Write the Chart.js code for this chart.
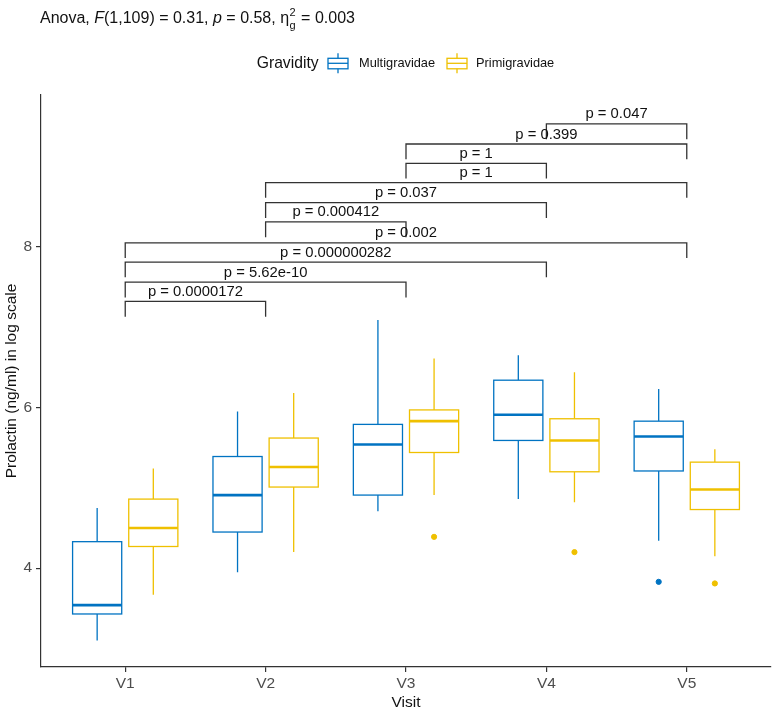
<!DOCTYPE html>
<html>
<head>
<meta charset="utf-8">
<script src="https://cdn.jsdelivr.net/npm/chart.js@4"></script>
<style>
  html, body { margin: 0; padding: 0; background: #fff; }
</style>
</head>
<body>
<canvas id="prolactinChart" width="776" height="714"></canvas>
<script>
const visits = ['V1', 'V2', 'V3', 'V4', 'V5'];
const yTicks = [4, 6, 8];

// Multigravidae boxes
const multiMin = [3.10, 3.95, 4.71, 4.86, 4.34];
const multiQ1 = [3.43, 4.45, 4.91, 5.59, 5.21];
const multiMedian = [3.54, 4.91, 5.54, 5.91, 5.64];
const multiQ3 = [4.33, 5.39, 5.79, 6.34, 5.83];
const multiMax = [4.75, 5.95, 7.09, 6.65, 6.23];
const multiOutliers = [{ visit: 'V5', value: 3.83 }];

// Primigravidae boxes
const primiMin = [3.67, 4.20, 4.91, 4.82, 4.15];
const primiQ1 = [4.27, 5.01, 5.44, 5.20, 4.73];
const primiMedian = [4.50, 5.26, 5.83, 5.59, 4.98];
const primiQ3 = [4.86, 5.62, 5.97, 5.86, 5.32];
const primiMax = [5.24, 6.18, 6.61, 6.44, 5.48];
const primiOutliers = [
  { visit: 'V3', value: 4.39 },
  { visit: 'V4', value: 4.20 },
  { visit: 'V5', value: 3.81 }
];

// pairwise comparisons, top to bottom
const pairFrom = ['V4', 'V3', 'V3', 'V2', 'V2', 'V2', 'V1', 'V1', 'V1', 'V1'];
const pairTo = ['V5', 'V5', 'V4', 'V5', 'V4', 'V3', 'V5', 'V4', 'V3', 'V2'];
const pLabels = ['p = 0.047', 'p = 0.399', 'p = 1', 'p = 1', 'p = 0.037', 'p = 0.000412',
  'p = 0.002', 'p = 0.000000282', 'p = 5.62e-10', 'p = 0.0000172'];
const bracketY = [9.53, 9.28, 9.04, 8.80, 8.55, 8.31, 8.05, 7.81, 7.56, 7.32];

const blue = '#0073C2';
const yellow = '#EFC000';
const fam = "'Liberation Sans', Arial, sans-serif";
const dodge = 0.2;
const boxHalf = 0.175;
const tipLen = 0.19;

const boxes = [
  { color: blue, off: -dodge, lo: multiMin, q1: multiQ1, med: multiMedian, q3: multiQ3, hi: multiMax },
  { color: yellow, off: dodge, lo: primiMin, q1: primiQ1, med: primiMedian, q3: primiQ3, hi: primiMax }
];

const boxPlugin = {
  id: 'boxes',
  beforeDatasetsDraw(chart) {
    const { ctx, scales: { x, y } } = chart;
    ctx.save();
    boxes.forEach(g => {
      visits.forEach((v, i) => {
        const xc = i + 1 + g.off;
        const xm = x.getPixelForValue(xc);
        const xl = x.getPixelForValue(xc - boxHalf);
        const xr = x.getPixelForValue(xc + boxHalf);
        const pLo = y.getPixelForValue(g.lo[i]);
        const p1 = y.getPixelForValue(g.q1[i]);
        const pM = y.getPixelForValue(g.med[i]);
        const p3 = y.getPixelForValue(g.q3[i]);
        const pHi = y.getPixelForValue(g.hi[i]);
        ctx.strokeStyle = g.color;
        ctx.lineWidth = 1.3;
        ctx.beginPath();
        ctx.moveTo(xm, p3); ctx.lineTo(xm, pHi);
        ctx.moveTo(xm, p1); ctx.lineTo(xm, pLo);
        ctx.stroke();
        ctx.fillStyle = '#fff';
        ctx.fillRect(xl, p3, xr - xl, p1 - p3);
        ctx.strokeRect(xl, p3, xr - xl, p1 - p3);
        ctx.lineWidth = 2.6;
        ctx.beginPath();
        ctx.moveTo(xl, pM); ctx.lineTo(xr, pM);
        ctx.stroke();
      });
    });
    ctx.restore();
  }
};

const bracketPlugin = {
  id: 'brackets',
  afterDatasetsDraw(chart) {
    const { ctx, scales: { x, y } } = chart;
    ctx.save();
    ctx.strokeStyle = '#333';
    ctx.lineWidth = 1.3;
    ctx.fillStyle = '#111';
    ctx.font = '14.8px ' + fam;
    ctx.textAlign = 'center';
    ctx.textBaseline = 'alphabetic';
    pLabels.forEach((lab, i) => {
      const x1 = x.getPixelForValue(visits.indexOf(pairFrom[i]) + 1);
      const x2 = x.getPixelForValue(visits.indexOf(pairTo[i]) + 1);
      const yb = y.getPixelForValue(bracketY[i]);
      const yt = y.getPixelForValue(bracketY[i] - tipLen);
      ctx.beginPath();
      ctx.moveTo(x1, yt); ctx.lineTo(x1, yb); ctx.lineTo(x2, yb); ctx.lineTo(x2, yt);
      ctx.stroke();
      ctx.fillText(lab, (x1 + x2) / 2, yb - 5.5);
    });
    ctx.restore();
  }
};

const headerPlugin = {
  id: 'header',
  afterDraw(chart) {
    const ctx = chart.ctx;
    ctx.save();
    ctx.fillStyle = '#111';
    ctx.textBaseline = 'alphabetic';
    ctx.textAlign = 'left';
    // subtitle with test statistics
    const base = 22.5;
    let cx = 40;
    const parts = [
      ['Anova, ', ''], ['F', 'italic '], ['(1,109) = 0.31, ', ''], ['p', 'italic '],
      [' = 0.58, ', ''], ['\u03b7', '']
    ];
    parts.forEach(([t, st]) => {
      ctx.font = st + '16px ' + fam;
      ctx.fillText(t, cx, base);
      cx += ctx.measureText(t).width;
    });
    ctx.font = '11px ' + fam;
    ctx.fillText('2', cx + 0.5, base - 7);
    ctx.fillText('g', cx + 0.5, base + 6);
    cx += ctx.measureText('g').width + 1.5;
    ctx.font = '16px ' + fam;
    ctx.fillText(' = 0.003', cx, base);

    // legend
    const ly = 63.3;
    ctx.textBaseline = 'middle';
    ctx.font = '15.7px ' + fam;
    ctx.fillText('Gravidity', 256.7, ly);
    const items = [
      { label: 'Multigravidae', color: blue, kx: 328, tx: 359 },
      { label: 'Primigravidae', color: yellow, kx: 447, tx: 476 }
    ];
    items.forEach(it => {
      ctx.strokeStyle = it.color;
      ctx.lineWidth = 1.3;
      const mid = it.kx + 10;
      ctx.beginPath();
      ctx.moveTo(mid, ly - 10); ctx.lineTo(mid, ly - 5);
      ctx.moveTo(mid, ly + 5.5); ctx.lineTo(mid, ly + 10);
      ctx.stroke();
      ctx.strokeRect(it.kx, ly - 5, 20, 10.5);
      ctx.beginPath();
      ctx.moveTo(it.kx, ly); ctx.lineTo(it.kx + 20, ly);
      ctx.stroke();
      ctx.fillStyle = '#111';
      ctx.font = '12.8px ' + fam;
      ctx.fillText(it.label, it.tx, ly);
    });
    ctx.restore();
  }
};

const toPoints = (list, off) => list.map(o => ({ x: visits.indexOf(o.visit) + 1 + off, y: o.value }));

new Chart(document.getElementById('prolactinChart'), {
  type: 'scatter',
  data: {
    datasets: [
      {
        label: 'Multigravidae',
        data: toPoints(multiOutliers, -dodge),
        backgroundColor: blue,
        borderColor: blue,
        pointRadius: 2.6,
        pointHoverRadius: 2.6
      },
      {
        label: 'Primigravidae',
        data: toPoints(primiOutliers, dodge),
        backgroundColor: yellow,
        borderColor: yellow,
        pointRadius: 2.6,
        pointHoverRadius: 2.6
      }
    ]
  },
  options: {
    responsive: false,
    animation: false,
    events: [],
    layout: { padding: { top: 95, right: 5, left: 0, bottom: 0 } },
    plugins: {
      legend: { display: false },
      tooltip: { enabled: false },
      title: { display: false }
    },
    scales: {
      x: {
        type: 'linear',
        min: 0.4,
        max: 5.6,
        afterBuildTicks: s => { s.ticks = visits.map((v, i) => ({ value: i + 1 })); },
        afterFit: s => { s.height = 47; },
        ticks: {
          callback: v => visits[v - 1],
          color: '#4d4d4d',
          font: { size: 15.5, family: fam },
          padding: 2,
          maxRotation: 0,
          autoSkip: false
        },
        grid: { drawOnChartArea: false, drawTicks: true, tickLength: 5, color: '#333', lineWidth: 1.2 },
        border: { color: '#333', width: 1.2 },
        title: {
          display: true,
          text: 'Visit',
          color: '#111',
          font: { size: 15.5, family: fam },
          padding: { top: 0, bottom: 2 }
        }
      },
      y: {
        type: 'linear',
        min: 2.77,
        max: 9.89,
        afterBuildTicks: s => { s.ticks = yTicks.map(v => ({ value: v })); },
        afterFit: s => { s.width = 41; },
        ticks: {
          color: '#4d4d4d',
          font: { size: 15.5, family: fam },
          padding: 4
        },
        grid: { drawOnChartArea: false, drawTicks: true, tickLength: 5, color: '#333', lineWidth: 1.2 },
        border: { color: '#333', width: 1.2 },
        title: {
          display: true,
          text: 'Prolactin (ng/ml) in log scale',
          color: '#111',
          font: { size: 15.5, family: fam },
          padding: { top: 2, bottom: 0 }
        }
      }
    }
  },
  plugins: [boxPlugin, bracketPlugin, headerPlugin]
});
</script>
</body>
</html>
